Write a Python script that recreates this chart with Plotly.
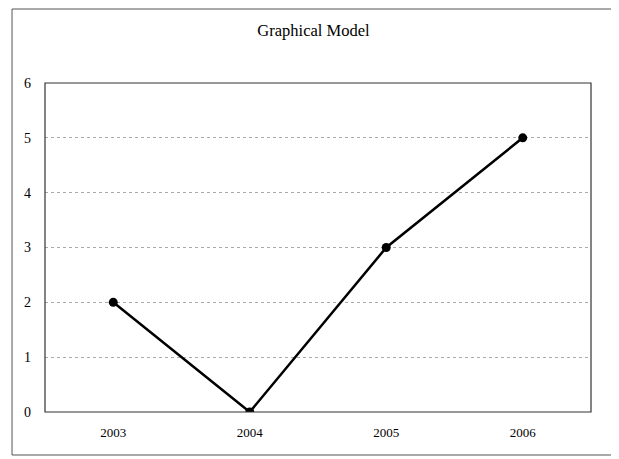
import plotly.graph_objects as go

years = ['2003', '2004', '2005', '2006']
values = [2, 0, 3, 5]
y_ticks = [0, 1, 2, 3, 4, 5, 6]

serif = 'Liberation Serif, Times New Roman, serif'

fig = go.Figure()
fig.add_trace(go.Scatter(
    x=years, y=values, mode='lines+markers',
    line=dict(color='black', width=2.5),
    marker=dict(color='black', size=9),
    showlegend=False,
))

# page body has an 8px margin, so the figure is a little smaller than the window
fig.update_layout(
    width=611, height=451,
    margin=dict(l=37, r=28, t=75, b=47),
    paper_bgcolor='white', plot_bgcolor='white',
    title=dict(text='Graphical Model', x=0.5, xanchor='center', y=0.951, yanchor='middle',
               font=dict(family=serif, size=16.5, color='black')),
    font=dict(family=serif, color='black'),
    xaxis=dict(type='category', range=[-0.5, 3.5], showgrid=False,
               ticks='', tickfont=dict(size=13, color='black'), ticklabelstandoff=11,
               showline=False, zeroline=False),
    yaxis=dict(range=[0, 6], tickvals=y_ticks, showgrid=True,
               gridcolor='#aaaaaa', griddash='dot', gridwidth=1,
               tickfont=dict(size=14, color='black'), ticklabelstandoff=13,
               showline=False, zeroline=False),
    shapes=[
        dict(type='rect', xref='paper', yref='paper', x0=0, x1=1, y0=0, y1=1,
             line=dict(color='#333333', width=1.2), layer='above'),
        dict(type='rect', xref='paper', yref='paper', x0=-0.0604, x1=1.0385, y0=-0.1307, y1=1.2249,
             line=dict(color='#555555', width=1)),
    ],
)

fig.write_html('out.html')
